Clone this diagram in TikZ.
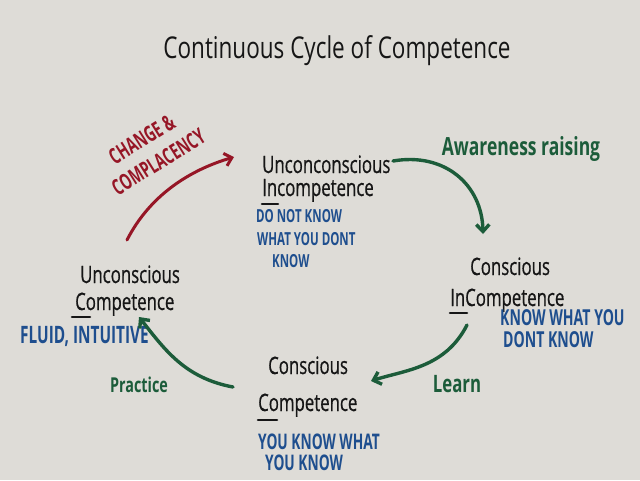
\documentclass[tikz,border=0pt]{standalone}
\usepackage{fontspec}
\usetikzlibrary{arrows.meta}
\newfontfamily\titlef{Open Sans}[FakeStretch=0.75]
\newfontfamily\hand{Open Sans}[FakeStretch=0.70,FakeBold=0.6]
\newfontfamily\greenf{Open Sans}[FakeStretch=0.70]
\newfontfamily\capsf{Open Sans}[FakeStretch=0.64]
\definecolor{board}{RGB}{222,220,215}
\definecolor{ink}{RGB}{22,22,22}
\definecolor{redink}{RGB}{150,22,38}
\definecolor{greenink}{RGB}{28,92,58}
\definecolor{blueink}{RGB}{30,78,142}
\tikzset{
  lbl/.style={anchor=base west,inner sep=0pt,text=ink,font=\hand\fontsize{24}{24}\selectfont},
  note/.style={anchor=base west,inner sep=0pt,text=blueink,font=\capsf\bfseries\fontsize{#1}{#1}\selectfont},
  note/.default=18,
  gtxt/.style={anchor=base,inner sep=0pt,text=greenink,font=\greenf\bfseries\fontsize{#1}{#1}\selectfont},
  gtxt/.default=21,
  rtxt/.style={anchor=center,inner sep=0pt,text=redink,rotate=32,align=left,font=\capsf\bfseries\fontsize{22}{28}\selectfont},
  garrow/.style={draw=greenink,line width=3.4pt,line cap=round,-{Straight Barb[length=7pt,width=13pt]}},
  rarrow/.style={draw=redink,line width=3pt,line cap=round,-{Straight Barb[length=7pt,width=13pt]}},
  uline/.style={draw=ink,line width=2.6pt,line cap=round}
}
\begin{document}
\begin{tikzpicture}[x=1pt,y=-1pt]
\fill[board] (0,0) rectangle (640,480);
\useasboundingbox (0,0) rectangle (640,480);
% title
\node[anchor=base,inner sep=0pt,text=ink,font=\titlef\fontsize{30}{30}\selectfont] (title) at (337,58) {Continuous Cycle of Competence};
% top stage
\node[lbl] (ui1) at (262,173) {Unconconscious};
\node[lbl] (ui2) at (262,196) {Incompetence};
\draw[uline] (262,204) -- (278,204);
\node[note=18] (uib1) at (256,222) {DO NOT KNOW};
\node[note=18] (uib2) at (257,245) {WHAT YOU DONT};
\node[note=18] (uib3) at (272,267) {KNOW};
% right stage
\node[lbl] (ci1) at (470,275) {Conscious};
\node[lbl] (ci2) at (450,306) {InCompetence};
\draw[uline] (450,313) -- (467,313);
\node[note=22] (cib1) at (500,325) {KNOW WHAT YOU};
\node[note=22] (cib2) at (503,347) {DONT KNOW};
% bottom stage
\node[lbl] (cc1) at (268,374) {Conscious};
\node[lbl] (cc2) at (258,411) {Competence};
\draw[uline] (258,420) -- (277,420);
\node[note=21.5] (ccb1) at (258,449) {YOU KNOW WHAT};
\node[note=21.5] (ccb2) at (265,470) {YOU KNOW};
% left stage
\node[lbl] (uc1) at (80,283) {Unconscious};
\node[lbl] (uc2) at (75,310) {Competence};
\draw[uline] (72,317) -- (90,317);
\node[note=24] (ucb1) at (20,343) {FLUID, INTUITIVE};
% transition labels
\node[gtxt=25] (aware) at (521,155) {Awareness raising};
\node[gtxt=24] (learn) at (457,392) {Learn};
\node[gtxt=20.5] (practice) at (139,392) {Practice};
\node[rtxt] (change) at (151,150) {\hspace*{14pt}CHANGE \&\\COMPLACENCY};
% arrows
\coordinate (a1s) at (393,161);
\coordinate (a1e) at (483,234);
\coordinate (a2s) at (467,325);
\coordinate (a2e) at (371,381);
\coordinate (a3s) at (233,387);
\coordinate (a3e) at (139,317);
\coordinate (a4s) at (127,240);
\coordinate (a4e) at (234,157);
\draw[garrow] (a1s) .. controls (445,152) and (482,185) .. (a1e);
\draw[garrow] (a2s) .. controls (445,368) and (405,370) .. (a2e);
\draw[garrow] (a3s) .. controls (185,378) and (165,350) .. (a3e);
\draw[rarrow] (a4s) .. controls (150,195) and (190,170) .. (a4e);
\end{tikzpicture}
\end{document}
